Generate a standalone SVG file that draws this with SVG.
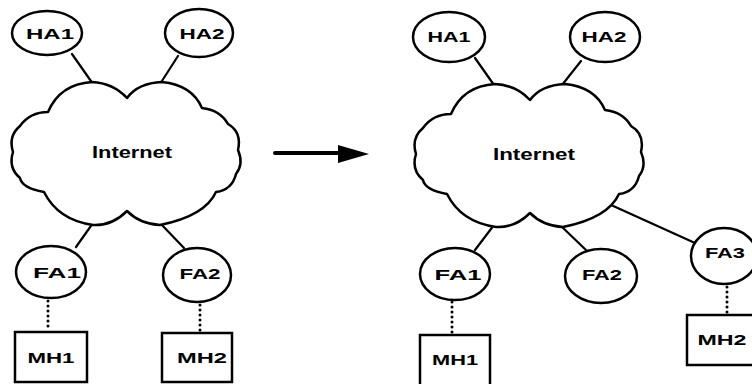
<svg xmlns="http://www.w3.org/2000/svg" width="752" height="384" viewBox="0 0 752 384">
<style>
.ln{stroke:#000;stroke-width:2.2;fill:none;stroke-linecap:round}
.dot{stroke:#000;stroke-width:3;fill:none;stroke-linecap:round;stroke-dasharray:0 5}
.nd{fill:#fff;stroke:#000;stroke-width:2.5}
.cl{fill:#fff;stroke:#000;stroke-width:2.5;stroke-linejoin:round}
.t{font-family:"Liberation Sans",Arial,sans-serif;font-weight:bold;font-size:15px;fill:#000;text-anchor:middle}
.ti{font-size:17px}
</style>
<defs>
<path id="cloud" d="M 48,112 Q 60,84 92,82 Q 113,83 127,98 Q 138,83 162,82 Q 192,85 202,108 Q 220,110 228,124 Q 242,132 238,150 Q 244,164 236,174 Q 232,190 216,192 Q 205,216 160,225 Q 140,224 127,211 Q 112,226 93,225 Q 58,220 44,192 Q 22,188 20,178 Q 8,168 13,152 Q 8,136 20,126 Q 30,112 48,112 Z"/>
</defs>
<g id="connectors">
<line class="ln" x1="72" y1="54" x2="93" y2="84"/>
<line class="ln" x1="178" y1="56" x2="160" y2="84"/>
<line class="ln" x1="93" y1="223" x2="76" y2="247"/>
<line class="ln" x1="160" y1="223" x2="184" y2="248"/>
<line class="dot" x1="48" y1="301" x2="48" y2="331"/>
<line class="dot" x1="200" y1="305" x2="200" y2="332"/>
<line class="ln" x1="475" y1="58" x2="494" y2="85"/>
<line class="ln" x1="581" y1="61" x2="562" y2="85"/>
<line class="ln" x1="494" y1="225" x2="475" y2="250"/>
<line class="ln" x1="560" y1="225" x2="587" y2="251"/>
<line class="ln" x1="600" y1="200" x2="695" y2="243"/>
<line class="dot" x1="452" y1="302" x2="452" y2="334"/>
<line class="dot" x1="727" y1="287" x2="727" y2="314"/>
<g id="arrow">
<line x1="275" y1="153" x2="342" y2="153" stroke="#000" stroke-width="4" stroke-linecap="round"/>
<polygon points="338,145 369,154 338,163" fill="#000"/>
</g>
</g>
<g id="internet-left">
<use href="#cloud" class="cl"/>
<text class="t ti" x="132" y="158" textLength="80" lengthAdjust="spacingAndGlyphs">Internet</text>
</g>
<g id="ha1-left"><ellipse class="nd" cx="47" cy="33" rx="35" ry="22"/><text class="t" x="50" y="39" textLength="48" lengthAdjust="spacingAndGlyphs">HA1</text></g>
<g id="ha2-left"><ellipse class="nd" cx="199" cy="33" rx="34" ry="24"/><text class="t" x="202" y="39" textLength="45" lengthAdjust="spacingAndGlyphs">HA2</text></g>
<g id="fa1-left"><ellipse class="nd" cx="51" cy="272" rx="35" ry="26"/><text class="t" x="57" y="278" textLength="48" lengthAdjust="spacingAndGlyphs">FA1</text></g>
<g id="fa2-left"><ellipse class="nd" cx="197" cy="275" rx="34" ry="27"/><text class="t" x="200" y="279" textLength="41" lengthAdjust="spacingAndGlyphs">FA2</text></g>
<g id="mh1-left"><rect class="nd" x="15" y="332" width="72" height="50"/><text class="t" x="51" y="363" textLength="47" lengthAdjust="spacingAndGlyphs">MH1</text></g>
<g id="mh2-left"><rect class="nd" x="162" y="333" width="70" height="49"/><text class="t" x="202" y="363" textLength="50" lengthAdjust="spacingAndGlyphs">MH2</text></g>
<g id="internet-right">
<use href="#cloud" class="cl" transform="translate(403,2)"/>
<text class="t ti" x="534" y="160" textLength="82" lengthAdjust="spacingAndGlyphs">Internet</text>
</g>
<g id="ha1-right"><ellipse class="nd" cx="449" cy="37" rx="36" ry="25"/><text class="t" x="449" y="42" textLength="43" lengthAdjust="spacingAndGlyphs">HA1</text></g>
<g id="ha2-right"><ellipse class="nd" cx="605" cy="37" rx="35" ry="25"/><text class="t" x="604" y="42" textLength="45" lengthAdjust="spacingAndGlyphs">HA2</text></g>
<g id="fa1-right"><ellipse class="nd" cx="455" cy="274" rx="35" ry="26"/><text class="t" x="458" y="280" textLength="47" lengthAdjust="spacingAndGlyphs">FA1</text></g>
<g id="fa2-right"><ellipse class="nd" cx="601" cy="276" rx="36" ry="27"/><text class="t" x="602" y="280" textLength="40" lengthAdjust="spacingAndGlyphs">FA2</text></g>
<g id="fa3-right"><ellipse class="nd" cx="724" cy="256" rx="33" ry="28"/><text class="t" x="725" y="258" textLength="40" lengthAdjust="spacingAndGlyphs">FA3</text></g>
<g id="mh1-right"><rect class="nd" x="420" y="335" width="70" height="60"/><text class="t" x="455" y="365" textLength="46" lengthAdjust="spacingAndGlyphs">MH1</text></g>
<g id="mh2-right"><rect class="nd" x="687" y="315" width="70" height="50"/><text class="t" x="722" y="345" textLength="49" lengthAdjust="spacingAndGlyphs">MH2</text></g>
</svg>
